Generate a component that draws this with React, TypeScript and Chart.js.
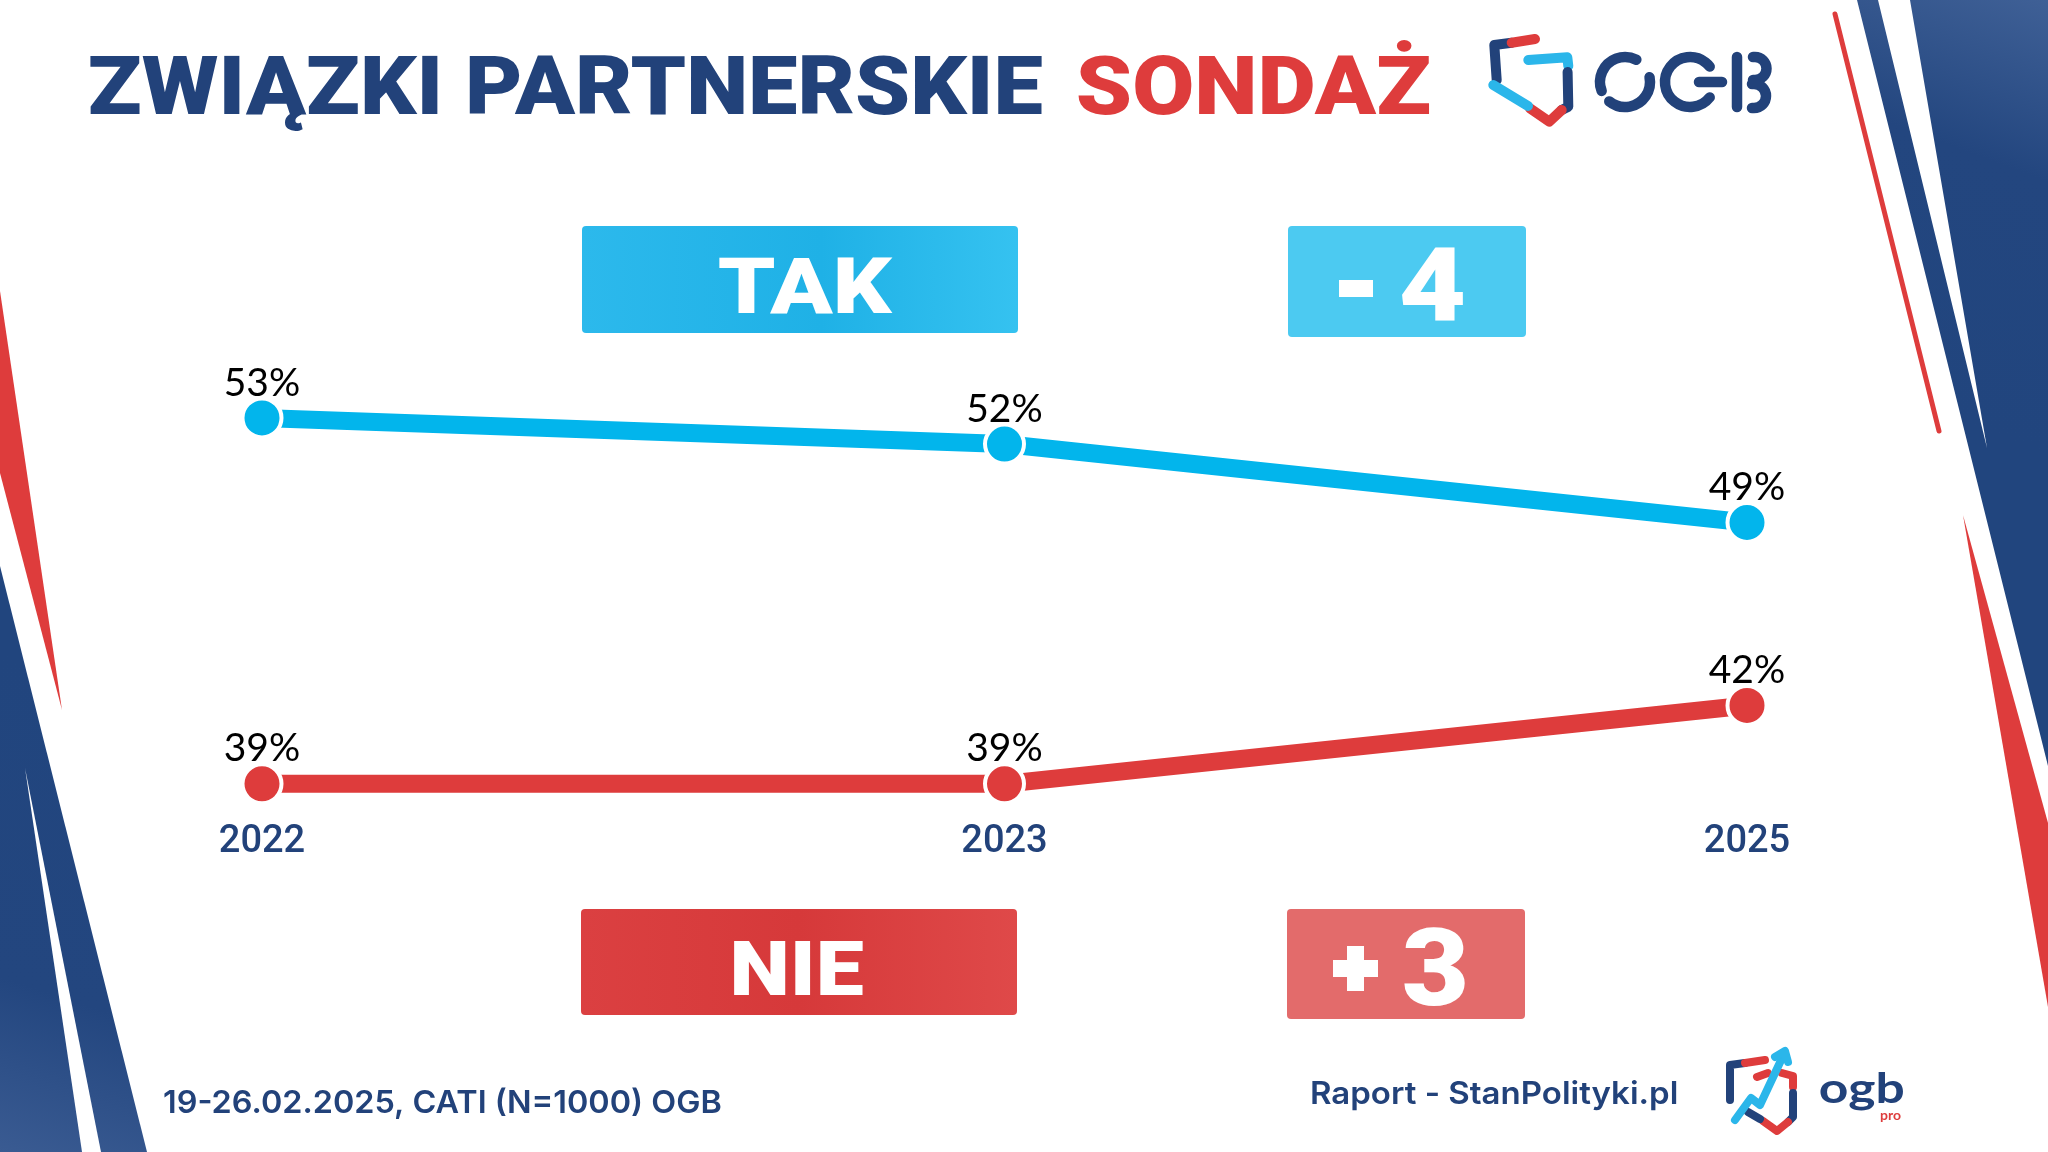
import { useEffect, useRef } from 'react';
import { Chart, registerables } from 'chart.js';

Chart.register(...registerables);

// ---------- data ----------
const years = ['2022', '2023', '2025'];
const takValues = [53, 52, 49];
const nieValues = [39, 39, 42];
const takLabel = 'TAK';
const nieLabel = 'NIE';
const takChange = ['-', '4'];
const nieChange = ['+', '3'];
const titleMain = 'ZWIĄZKI PARTNERSKIE';
const titleAccent = 'SONDAŻ';
const footerLeft = '19-26.02.2025, CATI (N=1000) OGB';
const footerRight = 'Raport - StanPolityki.pl';
const logoText = 'ogb';
const logoSub = 'pro';

const NAVY = '#22427a';
const RED = '#de3c3c';
const BLUE = '#02b5ec';
const LIGHT = '#2bb6ea';

type Ctx = CanvasRenderingContext2D;

function fitText(ctx: Ctx, text: string, left: number, capTop: number, width: number, capH: number, family: string, weight: string, color: string) {
  ctx.save();
  ctx.font = `${weight} 100px ${family}`;
  const hm = ctx.measureText('H');
  const ratio = hm.actualBoundingBoxAscent / 100 || 0.72;
  const size = capH / ratio;
  ctx.font = `${weight} ${size}px ${family}`;
  const tm = ctx.measureText(text);
  const inkW = tm.actualBoundingBoxLeft + tm.actualBoundingBoxRight;
  const sx = width / inkW;
  ctx.translate(left, capTop + capH);
  ctx.scale(sx, 1);
  ctx.fillStyle = color;
  ctx.textAlign = 'left';
  ctx.textBaseline = 'alphabetic';
  ctx.fillText(text, tm.actualBoundingBoxLeft, 0);
  ctx.restore();
}

function seg(ctx: Ctx, pts: number[][], color: string, w: number) {
  ctx.save();
  ctx.strokeStyle = color;
  ctx.lineWidth = w;
  ctx.lineCap = 'round';
  ctx.lineJoin = 'round';
  ctx.beginPath();
  ctx.moveTo(pts[0][0], pts[0][1]);
  for (let i = 1; i < pts.length; i++) ctx.lineTo(pts[i][0], pts[i][1]);
  ctx.stroke();
  ctx.restore();
}

function poly(ctx: Ctx, pts: number[][], fill: string | CanvasGradient) {
  ctx.save();
  ctx.fillStyle = fill;
  ctx.beginPath();
  ctx.moveTo(pts[0][0], pts[0][1]);
  for (let i = 1; i < pts.length; i++) ctx.lineTo(pts[i][0], pts[i][1]);
  ctx.closePath();
  ctx.fill();
  ctx.restore();
}

function box(ctx: Ctx, x: number, y: number, w: number, h: number, fill: string | CanvasGradient) {
  ctx.save();
  ctx.fillStyle = fill;
  ctx.beginPath();
  if ((ctx as any).roundRect) (ctx as any).roundRect(x, y, w, h, 4);
  else ctx.rect(x, y, w, h);
  ctx.fill();
  ctx.restore();
}

const deg = (d: number) => (d * Math.PI) / 180;

function drawBackground(ctx: Ctx, W: number, H: number) {
  ctx.save();
  ctx.fillStyle = '#ffffff';
  ctx.fillRect(0, 0, W, H);
  // left stripes
  poly(ctx, [[0, 291], [62, 710], [0, 473]], RED);
  const gl = ctx.createLinearGradient(0, 1152, 150, 700);
  gl.addColorStop(0, '#3a5b92');
  gl.addColorStop(0.35, '#23467f');
  gl.addColorStop(1, '#21457e');
  poly(ctx, [[0, 566], [147, 1152], [0, 1152]], gl);
  poly(ctx, [[25, 768], [101, 1152], [82, 1152]], '#ffffff');
  // right stripes
  seg(ctx, [[1835, 14], [1939, 431]], RED, 5);
  const gr = ctx.createLinearGradient(2048, 0, 1900, 400);
  gr.addColorStop(0, '#3f6096');
  gr.addColorStop(0.4, '#23467f');
  gr.addColorStop(1, '#21457e');
  poly(ctx, [[1857, 0], [1878, 0], [1987, 448], [1910, 0], [2048, 0], [2048, 766]], gr);
  poly(ctx, [[1963, 515], [2048, 823], [2048, 1007]], RED);
  ctx.restore();
}

function drawOverlay(ctx: Ctx) {
  const HEAVY = 'Roboto';
  // title
  fitText(ctx, titleMain, 90, 55, 952, 59, HEAVY, '900', NAVY);
  fitText(ctx, titleAccent, 1078, 55, 352, 59, HEAVY, '900', RED);

  // top OGB logo
  const lw = 10;
  seg(ctx, [[1496.7, 80], [1494.3, 45], [1511.7, 42.7]], NAVY, lw);
  seg(ctx, [[1511.7, 42.7], [1535, 39]], RED, lw);
  seg(ctx, [[1528.3, 60], [1567.3, 57.3], [1568.3, 66]], LIGHT, lw);
  seg(ctx, [[1567.6, 72], [1568.3, 106.7], [1561.7, 110]], NAVY, lw);
  seg(ctx, [[1561.7, 110], [1549.3, 121.7], [1530, 108.3]], RED, lw);
  seg(ctx, [[1528, 106], [1493.3, 85]], LIGHT, lw);
  ctx.save();
  ctx.strokeStyle = NAVY;
  ctx.lineWidth = 10.5;
  ctx.lineCap = 'round';
  ctx.beginPath();
  ctx.arc(1625, 82, 25, deg(-11), deg(129));
  ctx.stroke();
  ctx.beginPath();
  ctx.arc(1625, 82, 25, deg(159), deg(297));
  ctx.stroke();
  ctx.beginPath();
  ctx.arc(1690, 82, 25, deg(38), deg(322));
  ctx.stroke();
  ctx.beginPath();
  ctx.moveTo(1699, 82);
  ctx.lineTo(1722, 82);
  ctx.stroke();
  ctx.beginPath();
  ctx.moveTo(1737, 57);
  ctx.lineTo(1737, 107);
  ctx.stroke();
  ctx.beginPath();
  ctx.moveTo(1753, 57);
  ctx.arc(1755, 68.5, 11.5, deg(-90), deg(90));
  ctx.lineTo(1753, 80);
  ctx.stroke();
  ctx.beginPath();
  ctx.moveTo(1752, 84);
  ctx.arc(1754, 96, 12, deg(-90), deg(90));
  ctx.lineTo(1752, 108);
  ctx.stroke();
  ctx.restore();

  // boxes
  const gTak = ctx.createLinearGradient(582, 0, 1017, 0);
  gTak.addColorStop(0, '#2cb9ec');
  gTak.addColorStop(0.55, '#1fb1e6');
  gTak.addColorStop(1, '#35c2f0');
  box(ctx, 582, 226, 436, 107, gTak);
  box(ctx, 1288, 226, 238, 111, '#4ccaf1');
  const gNie = ctx.createLinearGradient(581, 0, 1016, 0);
  gNie.addColorStop(0, '#db4041');
  gNie.addColorStop(0.5, '#d6393a');
  gNie.addColorStop(1, '#df4949');
  box(ctx, 581, 909, 436, 106, gNie);
  box(ctx, 1287, 909, 238, 110, '#e36b6b');

  fitText(ctx, takLabel, 719, 257, 174, 56, HEAVY, '900', '#ffffff');
  fitText(ctx, nieLabel, 734, 940, 129, 55, HEAVY, '900', '#ffffff');

  // "- 4"
  ctx.save();
  ctx.fillStyle = '#ffffff';
  ctx.fillRect(1339, 280, 34, 17);
  ctx.restore();
  fitText(ctx, takChange[1], 1401, 247, 62, 73, HEAVY, '900', '#ffffff');
  // "+ 3"
  ctx.save();
  ctx.fillStyle = '#ffffff';
  ctx.fillRect(1333, 960, 45, 17);
  ctx.fillRect(1347, 946, 17, 45);
  ctx.restore();
  fitText(ctx, nieChange[1], 1404, 928, 61, 77, HEAVY, '900', '#ffffff');

  // footer
  fitText(ctx, footerLeft, 164, 1090, 557, 23, 'Inter', '600', NAVY);
  fitText(ctx, footerRight, 1312, 1081, 365, 23, 'Inter', '600', NAVY);

  // bottom logo
  const bw = 8;
  seg(ctx, [[1730, 1100], [1730, 1065], [1745, 1063]], NAVY, bw);
  seg(ctx, [[1745, 1063], [1765, 1060]], RED, bw);
  seg(ctx, [[1757, 1077], [1768, 1073]], RED, bw);
  seg(ctx, [[1782, 1073], [1793, 1076], [1793, 1087]], RED, bw);
  seg(ctx, [[1793, 1093], [1793, 1117], [1788, 1122]], NAVY, bw);
  seg(ctx, [[1788, 1122], [1777, 1131], [1763, 1121]], RED, bw);
  seg(ctx, [[1760, 1119], [1748, 1112]], NAVY, bw);
  seg(ctx, [[1735, 1120], [1751, 1098], [1760, 1105], [1783, 1056]], LIGHT, bw);
  seg(ctx, [[1775, 1057], [1785, 1051], [1788, 1062]], LIGHT, bw);
  fitText(ctx, logoText, 1820, 1073, 83, 30, 'Lato', '700', NAVY);
  ctx.save();
  ctx.fillStyle = RED;
  ctx.font = '700 14px Lato';
  ctx.textBaseline = 'alphabetic';
  ctx.fillText(logoSub, 1880, 1120);
  ctx.restore();
}

const decorPlugin = {
  id: 'decor',
  beforeDraw(chart: any) {
    drawBackground(chart.ctx, chart.width, chart.height);
  },
  afterDatasetsDraw(chart: any) {
    const ctx: Ctx = chart.ctx;
    ctx.save();
    ctx.fillStyle = '#000000';
    ctx.font = '400 39px Lato';
    ctx.textAlign = 'center';
    ctx.textBaseline = 'middle';
    chart.data.datasets.forEach((ds: any, i: number) => {
      const meta = chart.getDatasetMeta(i);
      meta.data.forEach((pt: any, j: number) => {
        ctx.fillText(`${ds.data[j]}%`, pt.x, pt.y - 35);
      });
    });
    ctx.restore();
  },
  afterDraw(chart: any) {
    drawOverlay(chart.ctx);
  },
};

export default function App() {
  const ref = useRef<HTMLCanvasElement | null>(null);
  useEffect(() => {
    if (!ref.current) return;
    const chart = new Chart(ref.current, {
      type: 'line',
      data: {
        labels: years,
        datasets: [
          {
            label: takLabel,
            data: takValues,
            borderColor: BLUE,
            backgroundColor: BLUE,
            borderWidth: 18,
            pointRadius: 19.5,
            pointHoverRadius: 19.5,
            pointBorderWidth: 4,
            pointBackgroundColor: BLUE,
            pointBorderColor: '#ffffff',
            tension: 0,
          },
          {
            label: nieLabel,
            data: nieValues,
            borderColor: RED,
            backgroundColor: RED,
            borderWidth: 18,
            pointRadius: 19.5,
            pointHoverRadius: 19.5,
            pointBorderWidth: 4,
            pointBackgroundColor: RED,
            pointBorderColor: '#ffffff',
            tension: 0,
          },
        ],
      },
      options: {
        animation: false,
        responsive: false,
        events: [],
        layout: { padding: { left: 262, right: 301, top: 235, bottom: 282 } },
        plugins: { legend: { display: false }, tooltip: { enabled: false }, title: { display: false } },
        scales: {
          x: {
            type: 'category',
            offset: false,
            grid: { display: false, drawTicks: false },
            border: { display: false },
            ticks: { color: NAVY, font: { family: 'Roboto', size: 38, weight: '500' }, padding: 10, maxRotation: 0, autoSkip: false },
            afterFit: (s: any) => { s.height = 60; },
          },
          y: { display: false, min: 38, max: 60 },
        },
      },
      plugins: [decorPlugin],
    } as any);
    return () => chart.destroy();
  }, []);
  return (
    <div style={{ position: 'fixed', left: 0, top: 0, width: 2048, height: 1152 }}>
      <canvas ref={ref} width={2048} height={1152} style={{ display: 'block', width: 2048, height: 1152 }} />
    </div>
  );
}
